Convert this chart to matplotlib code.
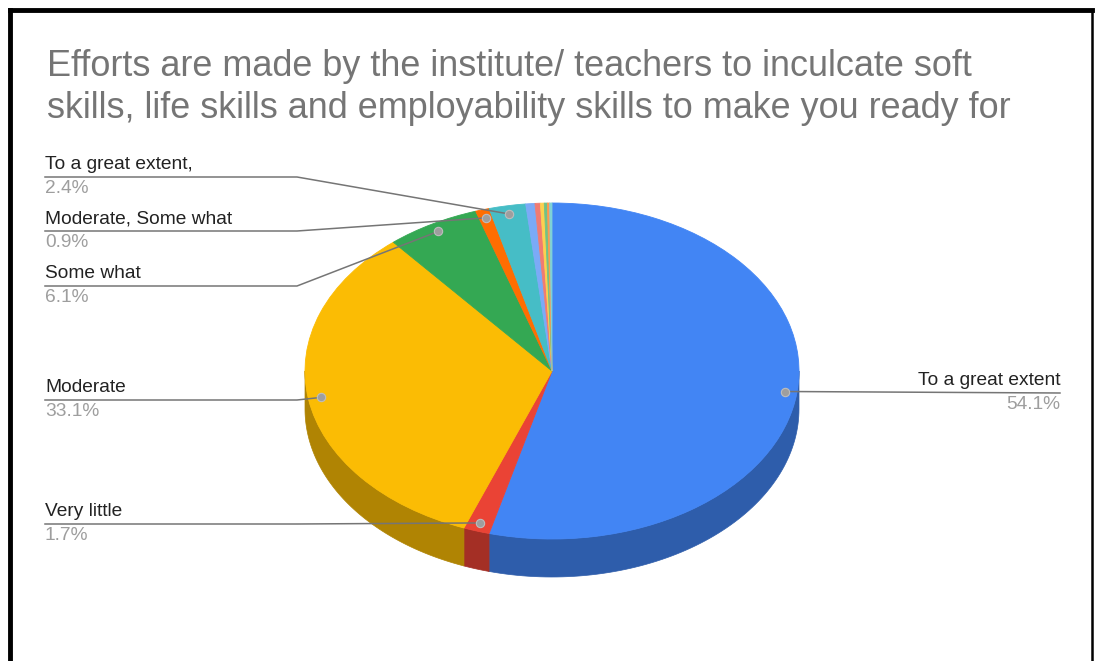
import numpy as np
import matplotlib
matplotlib.use("Agg")
import matplotlib.pyplot as plt

plt.rcParams["font.family"] = ["Liberation Sans", "DejaVu Sans"]

title_lines = ["Efforts are made by the institute/ teachers to inculcate soft",
               "skills, life skills and employability skills to make you ready for"]

categories = ["To a great extent", "Very little", "Moderate", "Some what",
              "Moderate, Some what", "To a great extent,",
              "Other 1", "Other 2", "Other 3", "Other 4", "Other 5", "Other 6"]
values = [54.1, 1.7, 33.1, 6.1, 0.9, 2.4, 0.6, 0.35, 0.25, 0.2, 0.15, 0.15]
colors = ["#4285F4", "#EA4335", "#FBBC04", "#34A853", "#FF6D01", "#46BDC6",
          "#7BAAF7", "#F07B72", "#FCD04F", "#71C287", "#FF994D", "#7ED1D7"]

# which slices get a label, and where (side, y of the leader line in px)
labelled = ["To a great extent", "Very little", "Moderate", "Some what",
            "Moderate, Some what", "To a great extent,"]
label_side = ["right", "left", "left", "left", "left", "left"]
label_line_y = [393, 524, 400, 286, 231, 177]

W, H = 1095, 661
cx, cy = 552, 371      # centre of top face, px
rx, ry = 247, 168      # radii of top face, px
depth = 38             # thickness of the pie, px
d = depth / ry


def darker(c, f=0.7):
    r, g, b = matplotlib.colors.to_rgb(c)
    return (r * f, g * f, b * f)


def to_px(u, v):
    return cx + rx * u, cy - ry * v


fig = plt.figure(figsize=(W / 100, H / 100), dpi=100)

# pie axes: 1 unit = rx px across, ry px down
axp = fig.add_axes([0, 0, 1, 1])
axp.axis("off")

total = sum(values)
fracs = np.array(values) / total
ends = np.cumsum(fracs) * 360
starts = ends - fracs * 360

# side wall (front half only)
for a, b, c in zip(starts, ends, colors):
    lo, hi = max(a, 90), min(b, 270)
    if hi <= lo:
        continue
    th = np.radians(np.linspace(lo, hi, 80))
    u = np.sin(th)
    v = np.cos(th)
    xs = np.concatenate([u, u[::-1]])
    ys = np.concatenate([v, v[::-1] - d])
    axp.fill(xs, ys, color=darker(c), lw=0.5, zorder=1)

wedges, _ = axp.pie(values, colors=colors, startangle=90, counterclock=False,
                    radius=1, wedgeprops=dict(linewidth=0.6))
for w, c in zip(wedges, colors):
    w.set_edgecolor(c)
    w.set_zorder(2)
axp.set_xlim(-cx / rx, (W - cx) / rx)
axp.set_ylim((cy - H) / ry, cy / ry)
axp.set_aspect("auto")

# overlay in pixel coords
ax = fig.add_axes([0, 0, 1, 1])
ax.set_xlim(0, W)
ax.set_ylim(H, 0)
ax.axis("off")
ax.patch.set_alpha(0)

# border of the chart box
ax.plot([10, 10], [H + 5, 10], color="black", lw=3.5, solid_capstyle="projecting")
ax.plot([10, 1092], [10, 10], color="black", lw=3.5, solid_capstyle="projecting")
ax.plot([1092, 1092], [10, H + 5], color="black", lw=1.8)

ax.text(47, 76, title_lines[0], fontsize=25.9, color="#757575", va="baseline", ha="left")
ax.text(47, 118, title_lines[1], fontsize=25.9, color="#757575", va="baseline", ha="left")

for name, side, ly in zip(labelled, label_side, label_line_y):
    i = categories.index(name)
    mid = np.radians((starts[i] + ends[i]) / 2)
    px, py = to_px(0.95 * np.sin(mid), 0.95 * np.cos(mid))
    pct = f"{values[i]:.1f}%"
    if side == "left":
        ax.plot([45, 297, px], [ly, ly, py], color="#757575", lw=1.1, zorder=3)
        tx, ha = 45, "left"
    else:
        ax.plot([px, 1060], [py, ly], color="#757575", lw=1.1, zorder=3)
        tx, ha = 1060, "right"
    ax.text(tx, ly - 8, name, fontsize=13.8, color="#222222", ha=ha, va="baseline")
    ax.text(tx, ly + 16, pct, fontsize=13.8, color="#9e9e9e", ha=ha, va="baseline")
    ax.plot(px, py, "o", ms=6, color="#9e9e9e", mec="#bdbdbd", mew=0.8, zorder=4)

fig.savefig("out.png", dpi=100)
